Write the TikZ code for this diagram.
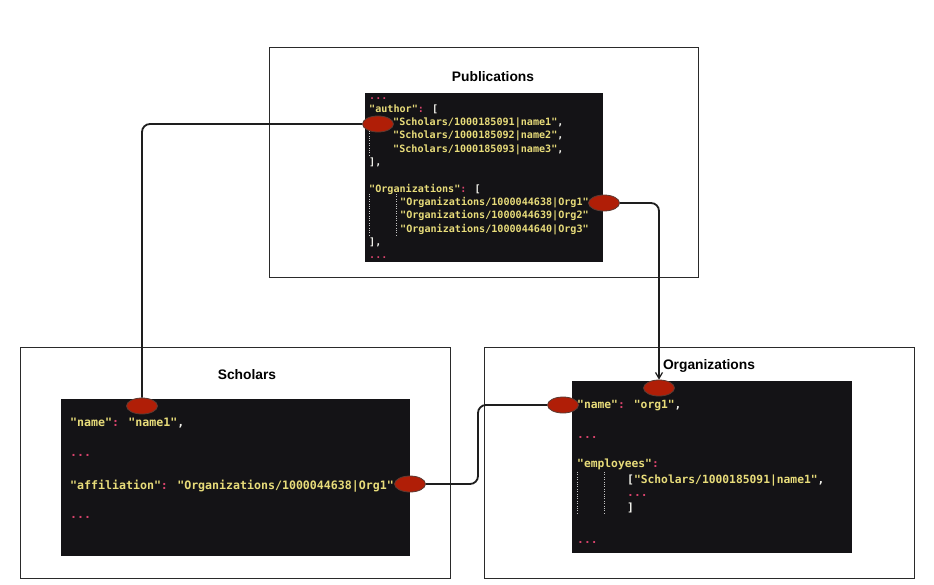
\documentclass[tikz,border=0pt]{standalone}
\usepackage{fontspec}
\setmainfont{Liberation Sans}
\newfontfamily\codefont{DejaVu Sans Mono}
\usetikzlibrary{arrows.meta,shapes.geometric}
\definecolor{codebg}{HTML}{141316}
\definecolor{cyel}{HTML}{E8DC7A}
\definecolor{cpink}{HTML}{D8436C}
\definecolor{cwht}{HTML}{F0F0EA}
\definecolor{dotred}{HTML}{B01E07}
\definecolor{dotedge}{HTML}{5C3B33}
\definecolor{linec}{HTML}{1E1E1E}
\definecolor{panelc}{HTML}{2A2A2A}
\newcommand\ky[1]{\textcolor{cyel}{#1}}
\newcommand\kp[1]{\textcolor{cpink}{#1}}
\begin{document}
\begin{tikzpicture}[x=1pt,y=-1pt,
  panel/.style={draw=panelc, line width=1.4pt, anchor=north west, inner sep=0},
  codebox/.style={fill=codebg, draw=none, anchor=north west, inner sep=0},
  ttl/.style={font=\bfseries\fontsize{13.8}{16}\selectfont, inner sep=0},
  ln/.style={anchor=base west, inner sep=0, text=cwht},
  publn/.style={ln, font=\codefont\bfseries\fontsize{10.1}{12}\selectfont},
  schln/.style={ln, font=\codefont\bfseries\fontsize{11.6}{14}\selectfont},
  orgln/.style={ln, font=\codefont\bfseries\fontsize{11.3}{14}\selectfont},
  dotmark/.style={ellipse, fill=dotred, draw=dotedge, line width=0.8pt, minimum width=31pt, minimum height=16pt, inner sep=0},
  conn/.style={draw=linec, line width=1.8pt, rounded corners=8pt},
  guide/.style={draw=gray!45, line width=0.4pt, dotted}]
\useasboundingbox (0,0) rectangle (934,584);

% panels
\node[panel, minimum width=429pt, minimum height=230pt] (pubbox) at (269,47) {};
\node[panel, minimum width=430pt, minimum height=231pt] (schbox) at (20,347) {};
\node[panel, minimum width=430pt, minimum height=231pt] (orgbox) at (484,347) {};

% titles
\node[ttl] (pubttl) at (493,77) {Publications};
\node[ttl] (schttl) at (247,375) {Scholars};
\node[ttl] (orgttl) at (709,366) {Organizations};

% code boxes
\node[codebox, minimum width=238pt, minimum height=169pt] (pubcode) at (365,93) {};
\node[codebox, minimum width=349pt, minimum height=157pt] (schcode) at (61,399) {};
\node[codebox, minimum width=280pt, minimum height=172pt] (orgcode) at (572,381) {};

% guides
\draw[guide] (369,126) -- (369,157);
\draw[guide] (369,194) -- (369,236);
\draw[guide] (396,194) -- (396,236);
\draw[guide] (577,472) -- (577,513);
\draw[guide] (604,472) -- (604,513);

% publications code
\node[publn] (p0) at (369,99.5) {\kp{...}};
\node[publn] (p1) at (369,112) {\ky{"author"}\kp{:} [};
\node[publn] (p2) at (393,125.3) {\ky{"Scholars/1000185091|name1"},};
\node[publn] (p3) at (393,138.7) {\ky{"Scholars/1000185092|name2"},};
\node[publn] (p4) at (393,152) {\ky{"Scholars/1000185093|name3"},};
\node[publn] (p5) at (369,165.3) {],};
\node[publn] (p7) at (369,192) {\ky{"Organizations"}\kp{:} [};
\node[publn] (p8) at (400,205.3) {\ky{"Organizations/1000044638|Org1"}};
\node[publn] (p9) at (400,218.7) {\ky{"Organizations/1000044639|Org2"}};
\node[publn] (p10) at (400,232) {\ky{"Organizations/1000044640|Org3"}};
\node[publn] (p11) at (369,245.3) {],};
\node[publn] (p12) at (369,258.7) {\kp{...}};

% scholars code
\node[schln] (s1) at (70,426) {\ky{"name"}\kp{:} \ky{"name1"},};
\node[schln] (s2) at (70,456) {\kp{...}};
\node[schln] (s3) at (70,489) {\ky{"affiliation"}\kp{:} \ky{"Organizations/1000044638|Org1"}};
\node[schln] (s4) at (70,518) {\kp{...}};

% organizations code
\node[orgln] (o1) at (577,408) {\ky{"name"}\kp{:} \ky{"org1"},};
\node[orgln] (o2) at (577,438) {\kp{...}};
\node[orgln] (o3) at (577,467) {\ky{"employees"}\kp{:}};
\node[orgln] (o4) at (627,483) {[\ky{"Scholars/1000185091|name1"},};
\node[orgln] (o5) at (627,496) {\kp{...}};
\node[orgln] (o6) at (627,511) {]};
\node[orgln] (o7) at (577,543) {\kp{...}};

% markers
\node[dotmark] (eauth) at (378,124) {};
\node[dotmark] (eporg) at (604,203) {};
\node[dotmark] (esname) at (142,406) {};
\node[dotmark] (eaff) at (410,484) {};
\node[dotmark] (eoname) at (563,405) {};
\node[dotmark] (eotop) at (659,388) {};
\coordinate (j3) at (478,445);

% connectors
\draw[conn] (eauth.west) -| (esname.north);
\draw[conn, -{Straight Barb[length=6pt,width=7pt,line width=1.2pt]}] (eporg.east) -| (eotop.north);
\draw[conn] (eaff.east) -| (j3) |- (eoname.west);
\end{tikzpicture}
\end{document}
